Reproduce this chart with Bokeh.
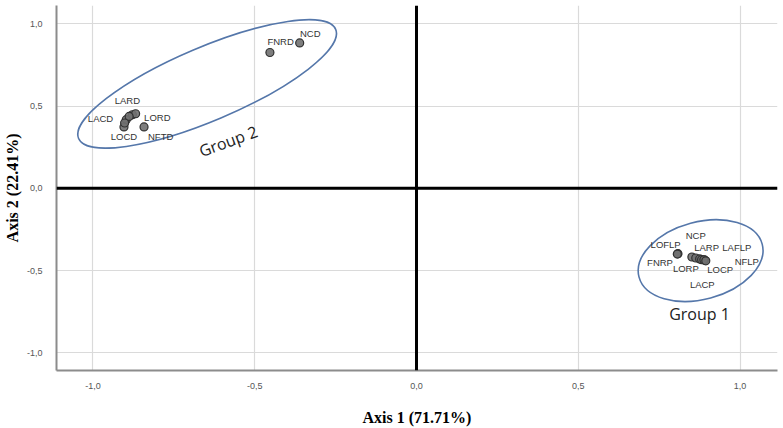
from bokeh.plotting import figure
from bokeh.models import Range1d, FixedTicker, CustomJSTickFormatter, Span, ColumnDataSource
from bokeh.core.properties import value
from bokeh.embed import file_html
from bokeh.resources import INLINE
import math

# ---------------- data ----------------
tick_values = [-1.0, -0.5, 0.0, 0.5, 1.0]
tick_labels = ["-1,0", "-0,5", "0,0", "0,5", "1,0"]

# Group 2 (variables ending in D)
g2_names = ["NCD", "FNRD", "LARD", "LORD", "LACD", "LOCD", "NFTD", "", ""]
g2_axis1 = [-0.361, -0.453, -0.878, -0.868, -0.897, -0.904, -0.842, -0.888, -0.902]
g2_axis2 = [0.883, 0.825, 0.447, 0.453, 0.417, 0.373, 0.373, 0.437, 0.397]

# Group 1 (variables ending in P)
g1_names = ["LOFLP", "FNRP", "LORP", "NCP", "LARP", "LACP", "LAFLP", "LOCP", "NFLP"]
g1_axis1 = [0.808, 0.806, 0.851, 0.863, 0.875, 0.881, 0.890, 0.888, 0.894]
g1_axis2 = [-0.397, -0.399, -0.417, -0.423, -0.429, -0.433, -0.435, -0.434, -0.440]

axis1_title = "Axis 1 (71.71%)"
axis2_title = "Axis 2 (22.41%)"
group_titles = ["Group  2", "Group   1"]

# ---------------- styles (label offsets in screen px, y downwards) ----------------
g2_dx = [10.6, 10.7, -5, 21.7, -25.7, 0, 16.6, 0, 0]
g2_dy = [-9.4, -10.6, -14, 3.7, -1, 9.4, 9.4, 0, 0]
g1_dx = [-12.3, -17.3, -6, 0, 7, 0.7, 32.3, 16.3, 41]
g1_dy = [-9, 8.3, 11.7, -22.6, -11.3, 25, -12.3, 9.4, 0.7]

p = figure(width=783, height=428, output_backend="svg", toolbar_location=None,
           x_range=Range1d(-1.1125, 1.1156), y_range=Range1d(-1.1064, 1.1106),
           min_border_left=54, min_border_right=6, min_border_top=5, min_border_bottom=55)
p.outline_line_color = None
p.background_fill_color = "white"

fmt = CustomJSTickFormatter(args=dict(tvals=tick_values, tlabels=tick_labels), code="""
let best = 0;
for (let i = 0; i < tvals.length; i++) {
  if (Math.abs(tvals[i] - tick) < Math.abs(tvals[best] - tick)) best = i;
}
return tlabels[best];
""")

for ax in (p.xaxis[0], p.yaxis[0]):
    ax.ticker = FixedTicker(ticks=tick_values)
    ax.formatter = fmt
    ax.major_tick_line_color = None
    ax.minor_tick_line_color = None
    ax.axis_line_color = "#8c8c8c"
    ax.axis_line_width = 2
    ax.major_label_text_font = "Liberation Sans"
    ax.major_label_text_font_size = "9px"
    ax.major_label_text_color = "#555555"
    ax.axis_label_text_font = "Liberation Serif"
    ax.axis_label_text_font_style = "bold"
    ax.axis_label_text_font_size = "16px"
    ax.axis_label_text_color = "#000000"

p.xaxis[0].axis_label = axis1_title
p.yaxis[0].axis_label = axis2_title
p.xaxis[0].major_label_standoff = 6
p.xaxis[0].axis_label_standoff = 17
p.yaxis[0].major_label_standoff = 8
p.yaxis[0].axis_label_standoff = 3

for g in (p.xgrid[0], p.ygrid[0]):
    g.ticker = FixedTicker(ticks=tick_values)
    g.grid_line_color = "#dadada"
    g.grid_line_width = 1.2

p.add_layout(Span(location=0, dimension="width", line_color="black", line_width=3))
p.add_layout(Span(location=0, dimension="height", line_color="black", line_width=3))

# group ellipses (hand-drawn annotations)
ell = ColumnDataSource(dict(x=[-0.647, 0.878], y=[0.634, -0.439], w=[0.863, 0.394],
                            h=[0.446, 0.470], a=[math.radians(23), math.radians(15)]))
p.ellipse(x="x", y="y", width="w", height="h", angle="a", source=ell,
          fill_color=None, line_color="#5577aa", line_width=1.6)

# group captions
p.text(x=[-0.576], y=[0.291], text=[group_titles[0]], angle=math.radians(20),
       text_font=value("Open Sans"), text_font_size="16px", text_color="#222222",
       text_align="center", text_baseline="middle")
p.text(x=[0.8875], y=[-0.763], text=[group_titles[1]],
       text_font=value("Open Sans"), text_font_size="16px", text_color="#222222",
       text_align="center", text_baseline="middle")

for names, xs, ys, dxs, dys in ((g2_names, g2_axis1, g2_axis2, g2_dx, g2_dy),
                                (g1_names, g1_axis1, g1_axis2, g1_dx, g1_dy)):
    src = ColumnDataSource(dict(x=xs, y=ys, name=names, dx=dxs, dy=dys))
    p.scatter(x="x", y="y", source=src, size=8, fill_color="#707070",
              line_color="#303030", line_width=1.2, fill_alpha=0.9)
    p.text(x="x", y="y", text="name", x_offset="dx", y_offset="dy", source=src,
           text_font=value("Liberation Sans"), text_font_size="9.5px",
           text_color="#333333", text_align="center", text_baseline="middle")

open("out.html", "w").write(file_html(p, INLINE))
